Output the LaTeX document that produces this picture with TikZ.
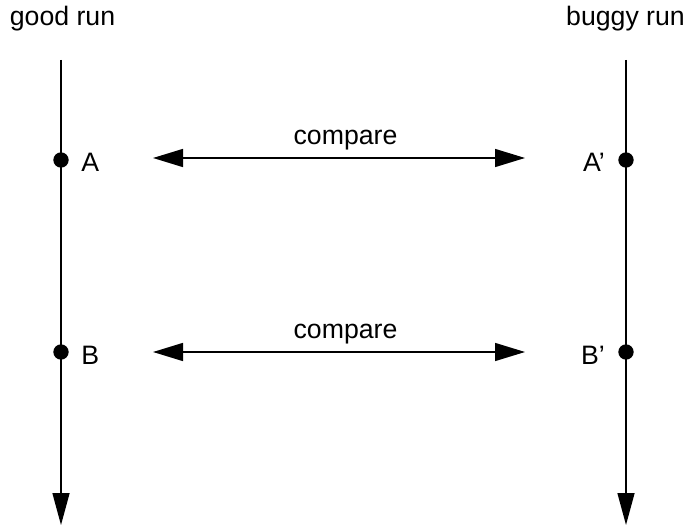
\documentclass[tikz,border=0pt]{standalone}
\usepackage{fontspec}
\setmainfont{Liberation Sans}
\usetikzlibrary{arrows.meta}
\begin{document}
\begin{tikzpicture}[x=0.75pt,y=-0.75pt,
  lbl/.style={font=\fontsize{20}{24}\selectfont, inner sep=0pt},
  timeline/.style={line width=1.1pt, -{Triangle[length=24pt,width=12.75pt]}},
  cmp/.style={line width=1.1pt, {Triangle[length=22.5pt,width=13.5pt]}-{Triangle[length=22.5pt,width=13.5pt]}},
  dot/.style={circle, fill=black, inner sep=0pt, minimum size=11.5pt}]
\useasboundingbox (0,0) rectangle (689,527);
% titles
\node[lbl, anchor=base] (good) at (62.5,26) {good run};
\node[lbl, anchor=base] (buggy) at (625.5,26) {buggy run};
% timelines
\coordinate (gtop) at (61,60);
\coordinate (gbot) at (61,525);
\coordinate (btop) at (626,60);
\coordinate (bbot) at (626,525);
\draw[timeline] (gtop) -- (gbot);
\draw[timeline] (btop) -- (bbot);
% dots
\node[dot] (dA) at (61,160) {};
\node[dot] (dB) at (61,352) {};
\node[dot] (dA2) at (626,160) {};
\node[dot] (dB2) at (626,352) {};
% labels
\node[lbl, anchor=base west] (A) at (81,172) {A};
\node[lbl, anchor=base west] (B) at (81,364) {B};
\node[lbl, anchor=base east] (A2) at (605,172) {A’};
\node[lbl, anchor=base east] (B2) at (605,364) {B’};
% compare arrows
\coordinate (c1l) at (153,158);
\coordinate (c1r) at (525,158);
\coordinate (c2l) at (153,352);
\coordinate (c2r) at (525,352);
\draw[cmp] (c1l) -- (c1r);
\draw[cmp] (c2l) -- (c2r);
\node[lbl, anchor=base] (t1) at (345.5,145) {compare};
\node[lbl, anchor=base] (t2) at (345.5,339) {compare};
\end{tikzpicture}
\end{document}
